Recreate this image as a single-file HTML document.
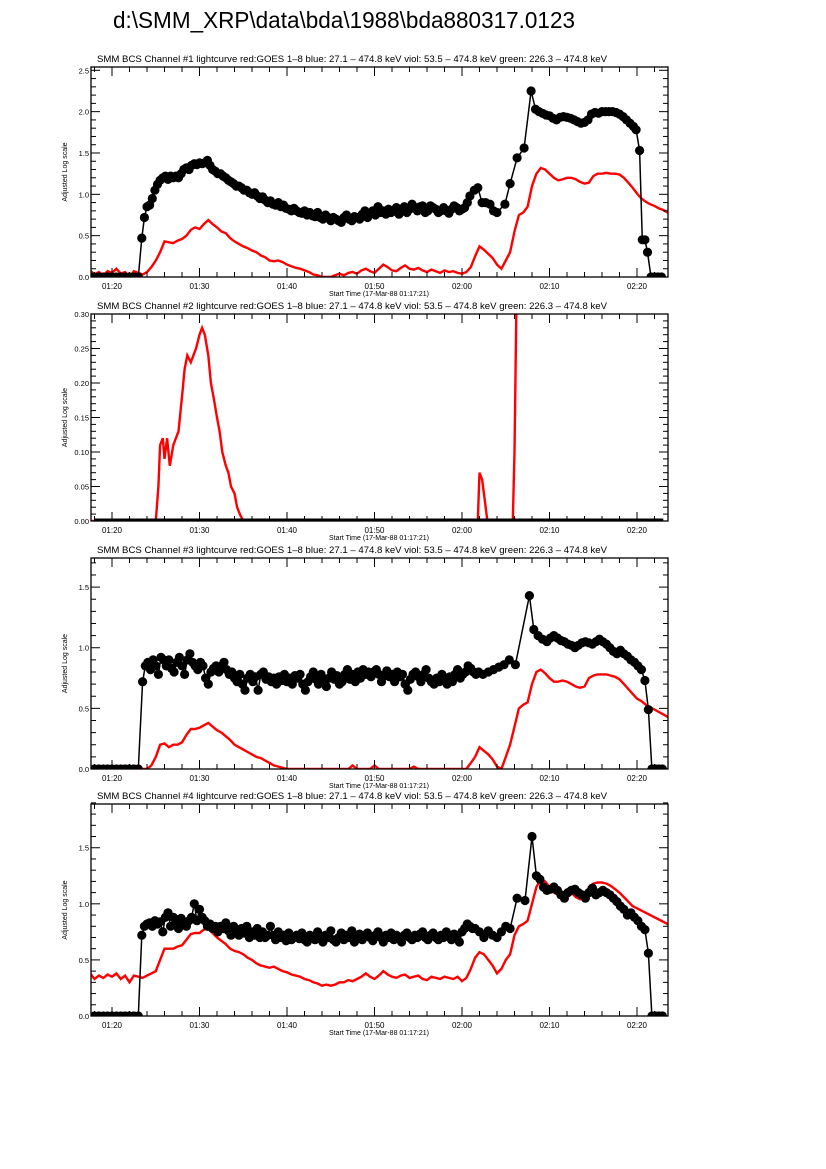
<!DOCTYPE html>
<html><head><meta charset="utf-8"><style>
html,body{margin:0;padding:0;background:#fff;}
svg{display:block;font-family:"Liberation Sans",sans-serif;}
</style></head><body>
<svg id="chart" width="826" height="1169" viewBox="0 0 826 1169" xmlns="http://www.w3.org/2000/svg">
<rect width="826" height="1169" fill="#fff"/>
<text x="113" y="28" font-size="23" textLength="462" lengthAdjust="spacingAndGlyphs">d:\SMM_XRP\data\bda\1988\bda880317.0123</text>
</svg>
<script>
// ---------- data ----------
const xTickLabels = ["01:20","01:30","01:40","01:50","02:00","02:10","02:20"];
const xTickMinutes = [20,30,40,50,60,70,80];
const goesStart = 17.5, goesStep = 0.5;

const ch1Black = [[18,0],[18.5,0],[19,0],[19.5,0],[20,0],[20.5,0],[21,0],[21.5,0],[22,0],[22.5,0],[23,0],
[23.4,0.47],[23.7,0.72],[24,0.85],[24.3,0.87],[24.6,0.95],[24.9,1.05],[25.2,1.12],[25.5,1.17],[25.8,1.2],[26.1,1.22],[26.4,1.18],[26.7,1.22],[27,1.2],[27.3,1.22],[27.6,1.2],[27.9,1.25],[28.2,1.3],[28.5,1.32],[28.8,1.3],[29.1,1.35],[29.4,1.37],[29.7,1.36],[30,1.38],[30.3,1.37],[30.6,1.38],[30.9,1.41],[31.2,1.35],[31.5,1.3],[31.8,1.28],[32.1,1.25],[32.4,1.25],[32.7,1.22],[33,1.2],[33.3,1.17],[33.6,1.15],[33.9,1.13],[34.2,1.1],[34.5,1.1],[34.8,1.08],[35.1,1.05],[35.4,1.05],[35.7,1.02],[36,1.0],[36.3,1.02],[36.6,0.98],[36.9,0.95],[37.2,0.97],[37.5,0.93],[37.8,0.9],[38.1,0.92],[38.4,0.88],[38.7,0.87],[39,0.9],[39.3,0.85],[39.6,0.87],[39.9,0.83],[40.2,0.82],[40.5,0.8],[40.8,0.83],[41.1,0.8],[41.4,0.78],[41.7,0.77],[42,0.8],[42.3,0.75],[42.6,0.78],[42.9,0.74],[43.2,0.73],[43.5,0.78],[43.8,0.72],[44.1,0.7],[44.4,0.75],[44.7,0.72],[45,0.68],[45.3,0.72],[45.6,0.7],[45.9,0.68],[46.2,0.66],[46.5,0.72],[46.8,0.75],[47.1,0.7],[47.4,0.68],[47.7,0.73],[48,0.72],[48.3,0.7],[48.6,0.76],[48.9,0.8],[49.2,0.72],[49.5,0.77],[49.8,0.8],[50.1,0.75],[50.4,0.85],[50.7,0.78],[51,0.8],[51.3,0.76],[51.6,0.82],[51.9,0.78],[52.2,0.8],[52.5,0.84],[52.8,0.76],[53.1,0.82],[53.4,0.85],[53.7,0.78],[54,0.82],[54.3,0.88],[54.6,0.84],[54.9,0.8],[55.2,0.85],[55.5,0.86],[55.8,0.78],[56.1,0.8],[56.4,0.86],[56.7,0.84],[57,0.82],[57.3,0.78],[57.6,0.8],[57.9,0.84],[58.2,0.8],[58.5,0.77],[58.8,0.82],[59.1,0.86],[59.4,0.84],[59.7,0.8],[60,0.82],[60.3,0.84],[60.6,0.9],[60.9,0.98],[61.4,1.05],[61.8,1.08],[62.3,0.9],[62.7,0.9],[63.2,0.88],[63.6,0.8],[64,0.78],[64.9,0.88],[65.5,1.13],[66.3,1.44],[67.1,1.56],[67.9,2.25],[68.4,2.03],[68.8,2.0],[69.2,1.98],[69.6,1.96],[70,1.95],[70.4,1.92],[70.8,1.9],[71.2,1.93],[71.6,1.94],[72,1.93],[72.4,1.92],[72.8,1.9],[73.2,1.88],[73.6,1.86],[74,1.87],[74.4,1.9],[74.8,1.97],[75.2,1.99],[75.6,1.98],[76,2.0],[76.4,2.0],[76.8,2.0],[77.2,2.0],[77.6,1.99],[78,1.97],[78.4,1.94],[78.8,1.9],[79.2,1.86],[79.6,1.82],[79.9,1.78],[80.3,1.53],[80.6,0.45],[80.9,0.45],[81.2,0.3],[81.6,0],[82,0],[82.4,0],[82.8,0]];

const ch1Red = [0.08,0.03,0.06,0.02,0.07,0.05,0.1,0.04,0.06,0.0,0.07,0.05,0.03,0.06,0.12,0.2,0.3,0.43,0.42,0.41,0.44,0.46,0.5,0.57,0.6,0.58,0.64,0.69,0.64,0.6,0.55,0.53,0.47,0.43,0.4,0.37,0.35,0.32,0.3,0.26,0.24,0.2,0.19,0.2,0.18,0.15,0.13,0.11,0.1,0.08,0.06,0.03,0.02,0.0,0.0,0.0,0.02,0.04,0.02,0.05,0.06,0.04,0.08,0.1,0.07,0.05,0.1,0.15,0.12,0.08,0.07,0.11,0.14,0.1,0.09,0.11,0.08,0.06,0.09,0.07,0.05,0.08,0.06,0.07,0.05,0.04,0.06,0.12,0.25,0.37,0.33,0.28,0.23,0.15,0.1,0.2,0.3,0.55,0.75,0.78,0.85,1.1,1.25,1.32,1.3,1.25,1.2,1.17,1.18,1.2,1.2,1.18,1.15,1.13,1.14,1.22,1.25,1.25,1.26,1.25,1.25,1.24,1.2,1.14,1.08,1.01,0.95,0.91,0.88,0.86,0.83,0.81,0.78,0.76,0.75];

const ch2Red = [[17.5,0],[25,0],[25.3,0.05],[25.5,0.11],[25.8,0.12],[26,0.09],[26.3,0.12],[26.6,0.08],[27,0.11],[27.3,0.12],[27.6,0.13],[28,0.18],[28.3,0.22],[28.6,0.24],[29,0.23],[29.3,0.24],[29.6,0.25],[30,0.27],[30.3,0.28],[30.6,0.27],[31,0.24],[31.3,0.2],[31.6,0.18],[32,0.15],[32.3,0.13],[32.6,0.1],[33,0.08],[33.3,0.07],[33.6,0.05],[34,0.04],[34.3,0.02],[34.6,0.01],[35,0],[61.8,0],[62,0.07],[62.3,0.06],[62.6,0.03],[62.9,0],[65.8,0],[66,0.1],[66.2,0.3],[66.3,0.35]];
const ch2Black = [[18,0],[83,0]];

const ch3Black = [[18,0],[18.5,0],[19,0],[19.5,0],[20,0],[20.5,0],[21,0],[21.5,0],[22,0],[22.5,0],[23,0],
[23.5,0.72],[23.8,0.85],[24.1,0.88],[24.4,0.82],[24.7,0.9],[25,0.85],[25.3,0.78],[25.6,0.92],[25.9,0.9],[26.2,0.85],[26.5,0.9],[26.8,0.83],[27.1,0.8],[27.4,0.88],[27.7,0.92],[28,0.85],[28.3,0.78],[28.6,0.9],[28.9,0.95],[29.2,0.88],[29.5,0.85],[29.8,0.82],[30.1,0.88],[30.4,0.85],[30.7,0.75],[31,0.7],[31.3,0.8],[31.6,0.83],[31.9,0.85],[32.2,0.8],[32.5,0.85],[32.8,0.88],[33.1,0.82],[33.4,0.78],[33.7,0.8],[34,0.75],[34.3,0.72],[34.6,0.78],[34.9,0.7],[35.2,0.65],[35.5,0.75],[35.8,0.78],[36.1,0.72],[36.4,0.76],[36.7,0.65],[37,0.78],[37.3,0.8],[37.6,0.74],[37.9,0.76],[38.2,0.72],[38.5,0.75],[38.8,0.7],[39.1,0.76],[39.4,0.73],[39.7,0.78],[40,0.72],[40.3,0.75],[40.6,0.7],[40.9,0.77],[41.2,0.75],[41.5,0.78],[41.8,0.7],[42.1,0.65],[42.4,0.72],[42.7,0.76],[43,0.8],[43.3,0.74],[43.6,0.7],[43.9,0.78],[44.2,0.72],[44.5,0.68],[44.8,0.75],[45.1,0.8],[45.4,0.74],[45.7,0.77],[46,0.7],[46.3,0.72],[46.6,0.78],[46.9,0.82],[47.2,0.74],[47.5,0.78],[47.8,0.72],[48.1,0.8],[48.4,0.75],[48.7,0.82],[49,0.78],[49.3,0.8],[49.6,0.76],[49.9,0.8],[50.2,0.82],[50.5,0.78],[50.8,0.72],[51.1,0.77],[51.4,0.81],[51.7,0.76],[52,0.78],[52.3,0.72],[52.6,0.8],[52.9,0.76],[53.2,0.78],[53.5,0.7],[53.8,0.65],[54.1,0.74],[54.4,0.78],[54.7,0.8],[55,0.76],[55.3,0.72],[55.6,0.78],[55.9,0.82],[56.2,0.75],[56.5,0.72],[56.8,0.7],[57.1,0.75],[57.4,0.72],[57.7,0.78],[58,0.73],[58.3,0.7],[58.6,0.76],[58.9,0.72],[59.2,0.78],[59.5,0.82],[59.8,0.75],[60.1,0.78],[60.4,0.8],[60.7,0.85],[61,0.83],[61.3,0.8],[61.6,0.78],[61.9,0.8],[62.4,0.78],[63,0.8],[63.6,0.82],[64.2,0.84],[64.8,0.86],[65.4,0.9],[66.1,0.86],[67.7,1.43],[68.2,1.15],[68.7,1.1],[69.2,1.07],[69.7,1.05],[70.1,1.08],[70.5,1.1],[70.9,1.08],[71.3,1.06],[71.7,1.05],[72.1,1.03],[72.5,1.02],[72.9,1.0],[73.3,1.02],[73.7,1.04],[74.1,1.05],[74.5,1.04],[74.9,1.03],[75.3,1.05],[75.7,1.07],[76.1,1.05],[76.5,1.03],[76.9,1.0],[77.3,0.97],[77.7,0.95],[78.1,0.98],[78.5,0.95],[78.9,0.93],[79.3,0.9],[79.7,0.88],[80.1,0.85],[80.5,0.82],[80.9,0.73],[81.3,0.49],[81.7,0],[82.1,0],[82.5,0],[82.9,0]];

const ch3Red = [0,0,0,0,0,0.02,0.01,0,0,0,0,0,0,0,0.03,0.1,0.2,0.21,0.18,0.2,0.2,0.22,0.28,0.33,0.33,0.34,0.36,0.38,0.35,0.32,0.3,0.27,0.24,0.2,0.18,0.16,0.14,0.12,0.1,0.09,0.07,0.05,0.03,0.02,0.01,0,0,0,0,0,0,0,0,0,0,0,0,0,0,0,0.03,0,0,0,0,0.03,0,0,0,0,0,0,0,0,0.02,0,0,0,0,0,0,0,0,0,0,0,0,0.05,0.1,0.18,0.15,0.12,0.08,0.02,0.0,0.1,0.2,0.35,0.5,0.53,0.55,0.7,0.8,0.82,0.79,0.75,0.72,0.72,0.73,0.72,0.7,0.68,0.67,0.68,0.75,0.77,0.78,0.78,0.78,0.77,0.76,0.74,0.7,0.66,0.62,0.58,0.56,0.53,0.51,0.49,0.47,0.45,0.43,0.42,0.41];

const ch4Black = [[18,0],[18.5,0],[19,0],[19.5,0],[20,0],[20.5,0],[21,0],[21.5,0],[22,0],[22.5,0],[23,0],
[23.4,0.72],[23.7,0.8],[24,0.82],[24.3,0.83],[24.6,0.8],[24.9,0.85],[25.2,0.82],[25.5,0.84],[25.8,0.75],[26.1,0.88],[26.4,0.92],[26.7,0.8],[27,0.88],[27.3,0.85],[27.6,0.78],[27.9,0.87],[28.2,0.82],[28.5,0.8],[28.8,0.85],[29.1,0.88],[29.4,1.0],[29.7,0.85],[30,0.95],[30.3,0.88],[30.6,0.85],[30.9,0.8],[31.2,0.82],[31.5,0.78],[31.8,0.8],[32.1,0.75],[32.4,0.8],[32.7,0.78],[33,0.83],[33.3,0.76],[33.6,0.72],[33.9,0.8],[34.2,0.75],[34.5,0.72],[34.8,0.78],[35.1,0.74],[35.4,0.8],[35.7,0.7],[36,0.75],[36.3,0.72],[36.6,0.78],[36.9,0.7],[37.2,0.75],[37.5,0.7],[37.8,0.72],[38.1,0.8],[38.4,0.72],[38.7,0.68],[39,0.75],[39.3,0.7],[39.6,0.72],[39.9,0.67],[40.2,0.74],[40.5,0.68],[40.8,0.7],[41.1,0.72],[41.4,0.69],[41.7,0.74],[42,0.68],[42.3,0.66],[42.6,0.72],[42.9,0.7],[43.2,0.68],[43.5,0.75],[43.8,0.7],[44.1,0.66],[44.4,0.72],[44.7,0.7],[45,0.76],[45.3,0.68],[45.6,0.66],[45.9,0.7],[46.2,0.74],[46.5,0.68],[46.8,0.72],[47.1,0.7],[47.4,0.76],[47.7,0.66],[48,0.7],[48.3,0.73],[48.6,0.68],[48.9,0.72],[49.2,0.74],[49.5,0.7],[49.8,0.67],[50.1,0.72],[50.4,0.75],[50.7,0.7],[51,0.66],[51.3,0.72],[51.6,0.7],[51.9,0.74],[52.2,0.68],[52.5,0.72],[52.8,0.7],[53.1,0.66],[53.4,0.72],[53.7,0.74],[54,0.7],[54.3,0.68],[54.6,0.72],[54.9,0.7],[55.2,0.73],[55.5,0.75],[55.8,0.7],[56.1,0.68],[56.4,0.72],[56.7,0.74],[57,0.7],[57.3,0.68],[57.6,0.72],[57.9,0.7],[58.2,0.75],[58.5,0.72],[58.8,0.68],[59.1,0.73],[59.4,0.7],[59.7,0.66],[60,0.75],[60.3,0.78],[60.6,0.82],[60.9,0.8],[61.2,0.78],[61.5,0.78],[62,0.75],[62.5,0.7],[63,0.76],[63.5,0.72],[64,0.7],[64.5,0.75],[65,0.8],[65.5,0.78],[66.3,1.05],[67.2,1.03],[68,1.6],[68.5,1.25],[68.9,1.22],[69.3,1.15],[69.7,1.12],[70.1,1.13],[70.5,1.15],[70.9,1.12],[71.3,1.08],[71.7,1.05],[72.1,1.1],[72.5,1.12],[72.9,1.13],[73.3,1.1],[73.7,1.08],[74.1,1.05],[74.5,1.1],[74.9,1.14],[75.3,1.08],[75.7,1.1],[76.1,1.12],[76.5,1.1],[76.9,1.08],[77.3,1.05],[77.7,1.02],[78.1,0.98],[78.5,0.95],[78.9,0.9],[79.3,0.92],[79.7,0.88],[80.1,0.85],[80.5,0.8],[80.9,0.77],[81.3,0.56],[81.7,0],[82.1,0],[82.5,0],[82.9,0]];

const ch4Red = [0.38,0.33,0.36,0.34,0.37,0.35,0.38,0.33,0.36,0.3,0.36,0.35,0.34,0.36,0.38,0.4,0.5,0.6,0.6,0.6,0.62,0.63,0.68,0.73,0.74,0.74,0.77,0.78,0.74,0.7,0.67,0.64,0.6,0.58,0.57,0.55,0.52,0.5,0.47,0.45,0.44,0.43,0.44,0.42,0.4,0.39,0.37,0.36,0.35,0.33,0.32,0.3,0.29,0.27,0.28,0.27,0.28,0.3,0.3,0.32,0.31,0.33,0.35,0.38,0.35,0.33,0.36,0.4,0.37,0.35,0.34,0.36,0.37,0.34,0.35,0.36,0.33,0.32,0.35,0.34,0.33,0.35,0.34,0.33,0.35,0.31,0.34,0.42,0.52,0.57,0.55,0.5,0.45,0.38,0.42,0.5,0.55,0.72,0.8,0.82,0.85,1.0,1.15,1.22,1.2,1.15,1.1,1.08,1.1,1.12,1.1,1.06,1.04,1.06,1.15,1.18,1.19,1.19,1.18,1.16,1.13,1.1,1.06,1.02,0.98,0.96,0.94,0.92,0.9,0.88,0.86,0.84,0.82,0.81,0.8];

const yTicks1 = ["0.0","0.5","1.0","1.5","2.0","2.5"];
const yTicks2 = ["0.00","0.05","0.10","0.15","0.20","0.25","0.30"];
const yTicks3 = ["0.0","0.5","1.0","1.5"];
const yTicks4 = ["0.0","0.5","1.0","1.5"];

const panels = [
 {n:1, top:67, bottom:277, ymax:2.54, major:0.5, minor:0.1, ticks:yTicks1, black:ch1Black, red:ch1Red, redPairs:null, dots:true},
 {n:2, top:314, bottom:521, ymax:0.30, major:0.05, minor:0.01, ticks:yTicks2, black:ch2Black, red:null, redPairs:ch2Red, dots:false},
 {n:3, top:558, bottom:769, ymax:1.74, major:0.5, minor:0.1, ticks:yTicks3, black:ch3Black, red:ch3Red, redPairs:null, dots:true},
 {n:4, top:804, bottom:1016, ymax:1.89, major:0.5, minor:0.1, ticks:yTicks4, black:ch4Black, red:ch4Red, redPairs:null, dots:true}
];

// ---------- drawing ----------
const NS = "http://www.w3.org/2000/svg";
const svg = document.getElementById("chart");
const L = 91, R = 668;
function xs(t){ return 112 + (t-20)*8.75; }
function mk(tag, attrs, parent){
  const e = document.createElementNS(NS, tag);
  for (const k in attrs) e.setAttribute(k, attrs[k]);
  (parent||svg).appendChild(e);
  return e;
}
const sub = "SMM BCS Channel #N lightcurve  red:GOES 1\u20138  blue: 27.1 \u2013 474.8 keV  viol: 53.5 \u2013 474.8 keV  green: 226.3 \u2013 474.8 keV";

panels.forEach(p => {
  const g = mk("g", {});
  
  
  const ys = v => p.bottom - v/p.ymax*(p.bottom-p.top);
  const cid = "clip" + p.n;
  const cp = mk("clipPath", {id:cid}, g);
  mk("rect", {x:L, y:p.top, width:R-L, height:p.bottom-p.top}, cp);

  const st = mk("text", {x:97, y:p.top-5, "font-size":9, textLength:510, lengthAdjust:"spacingAndGlyphs"}, g);
  st.textContent = sub.replace("#N", "#" + p.n);
  
  

  let pts = [];
  if (p.red) p.red.forEach((v,i) => pts.push(xs(goesStart+i*goesStep).toFixed(1)+","+ys(v).toFixed(1)));
  else p.redPairs.forEach(d => pts.push(xs(d[0]).toFixed(1)+","+ys(d[1]).toFixed(1)));
  const rl = mk("polyline", {points:pts.join(" "), fill:"none", stroke:"#ff0000", "stroke-width":2.4, "clip-path":"url(#"+cid+")"}, g);
  
  

  const bp = p.black.map(d => xs(d[0]).toFixed(1)+","+ys(d[1]).toFixed(1)).join(" ");
  const bl = mk("polyline", {points:bp, fill:"none", stroke:"#000", "stroke-width": p.dots?1.5:5, "clip-path":"url(#"+cid+")"}, g);
  
  
  if (p.dots) {
    const dg = mk("g", {"clip-path":"url(#"+cid+")"}, g);
    
    
    p.black.forEach(d => {
      const c = mk("circle", {cx:xs(d[0]).toFixed(1), cy:ys(d[1]).toFixed(1), r:4.6, fill:"#000"}, dg);
      
      
    });
  }

  const fr = mk("rect", {x:L, y:p.top, width:R-L, height:p.bottom-p.top, fill:"none", stroke:"#000", "stroke-width":1.3}, g);
  
  

  for (let t = 18; t <= 83; t += 2) {
    const x = xs(t);
    const major = (t % 10 === 0);
    const len = major ? 9 : 5;
    mk("line", {x1:x, x2:x, y1:p.bottom, y2:p.bottom-len, stroke:"#000", "stroke-width":1}, g);
    mk("line", {x1:x, x2:x, y1:p.top, y2:p.top+len, stroke:"#000", "stroke-width":1}, g);
  }
  xTickMinutes.forEach((t,i) => {
    const tl = mk("text", {x:xs(t), y:p.bottom+12, "font-size":8, "text-anchor":"middle"}, g);
    tl.textContent = xTickLabels[i];
    
    
  });
  const xl = mk("text", {x:379, y:p.bottom+19, "font-size":7, "text-anchor":"middle"}, g);
  xl.textContent = "Start Time (17-Mar-88 01:17:21)";
  
  

  const nMinor = Math.round(p.ymax / p.minor);
  for (let k = 0; k <= nMinor; k++) {
    const v = k * p.minor;
    const y = ys(v);
    const major = (k % 5 === 0);
    const len = major ? 9 : 5;
    mk("line", {x1:L, x2:L+len, y1:y, y2:y, stroke:"#000", "stroke-width":1}, g);
    mk("line", {x1:R, x2:R-len, y1:y, y2:y, stroke:"#000", "stroke-width":1}, g);
  }
  p.ticks.forEach(s => {
    const v = parseFloat(s);
    const yl = mk("text", {x:L-2, y:ys(v)+3, "font-size":7.5, "text-anchor":"end"}, g);
    yl.textContent = s;
    
    
  });
  const cy = (p.top+p.bottom)/2;
  const ya = mk("text", {x:0, y:0, "font-size":7, "text-anchor":"middle", transform:"translate(67,"+cy+") rotate(-90)"}, g);
  ya.textContent = "Adjusted Log scale";
  
  
});
</script>
</body></html>
